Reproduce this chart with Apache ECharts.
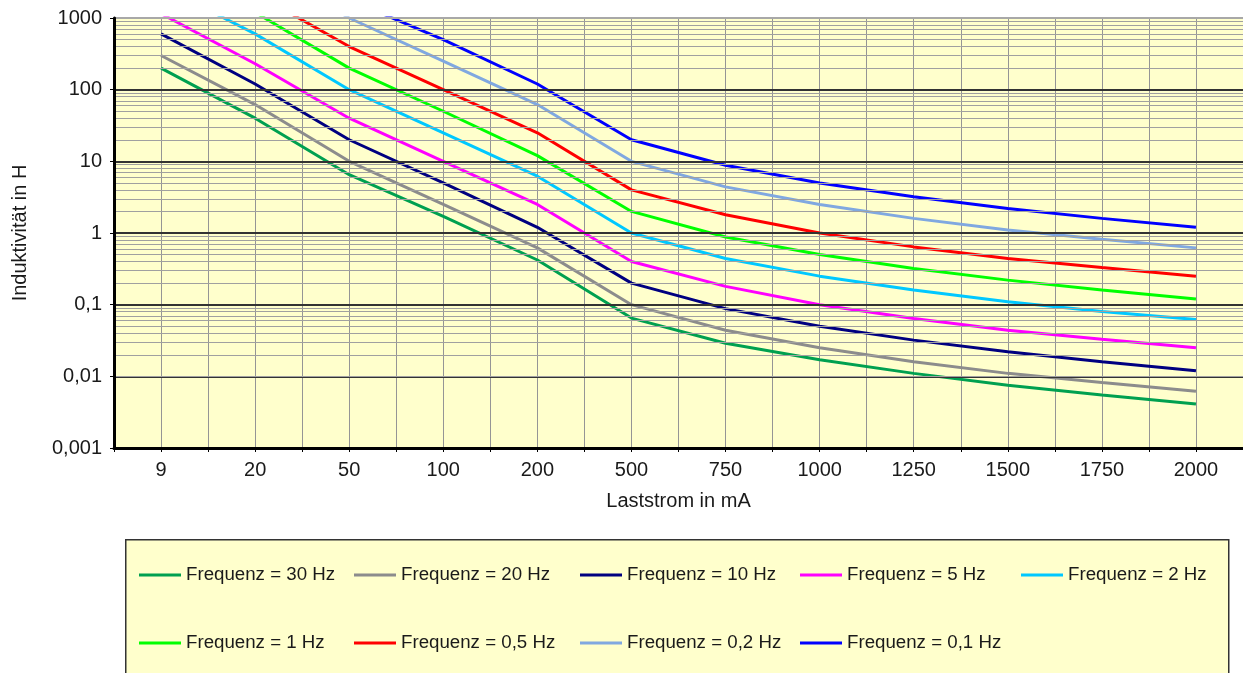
<!DOCTYPE html>
<html>
<head>
<meta charset="utf-8">
<script src="https://cdn.jsdelivr.net/npm/echarts@6/dist/echarts.min.js"></script>
<style>
html,body{margin:0;padding:0;background:#fff;}
#chart{width:1243px;height:673px;}
</style>
</head>
<body>
<div id="chart"></div>
<script>
// ---- data ----
const categories = ['9','20','50','100','200','500','750','1000','1250','1500','1750','2000'];
const yTickLabels = ['0,001','0,01','0,1','1','10','100','1000'];
const seriesNames = ['Frequenz = 30 Hz','Frequenz = 20 Hz','Frequenz = 10 Hz','Frequenz = 5 Hz','Frequenz = 2 Hz',
                     'Frequenz = 1 Hz','Frequenz = 0,5 Hz','Frequenz = 0,2 Hz','Frequenz = 0,1 Hz'];
const f30  = [200, 40, 6.5, 1.7, 0.42, 0.065, 0.029, 0.017, 0.011, 0.0075, 0.0055, 0.0041];
const f20  = [300, 62, 10, 2.5, 0.62, 0.1, 0.044, 0.025, 0.016, 0.011, 0.0082, 0.0062];
const f10  = [600, 120, 20, 5, 1.2, 0.2, 0.088, 0.05, 0.032, 0.022, 0.016, 0.012];
const f5   = [1150, 230, 40, 10, 2.5, 0.4, 0.18, 0.1, 0.064, 0.044, 0.033, 0.025];
const f2   = [2800, 600, 100, 25, 6.2, 1.0, 0.44, 0.25, 0.16, 0.11, 0.08, 0.062];
const f1   = [6000, 1200, 200, 50, 12, 2.0, 0.88, 0.5, 0.32, 0.22, 0.16, 0.12];
const f05  = [10500, 2200, 400, 100, 25, 4, 1.8, 1.0, 0.64, 0.44, 0.33, 0.25];
const f02  = [30000, 6000, 1000, 250, 62, 10, 4.4, 2.5, 1.6, 1.1, 0.82, 0.62];
const f01  = [60000, 12000, 1800, 500, 120, 20, 8.8, 5, 3.2, 2.2, 1.6, 1.2];
const seriesData = [f30, f20, f10, f5, f2, f1, f05, f02, f01];

// ---- style ----
const colors = ['#00a050','#8c8c8c','#000080','#ff00ff','#00c8ff','#00ff00','#ff0000','#80a8e0','#0000ff'];
const FONT = "'Liberation Sans', Arial, sans-serif";
const legendCols = [139, 354, 580, 800, 1021];
const legendRows = [573, 641];

// minor grid positions (2..9 x 10^k)
const minorLines = [];
for (let k = -3; k < 3; k++) for (let m = 2; m <= 9; m++) minorLines.push({yAxis: +(m * Math.pow(10, k)).toPrecision(3)});

const chart = echarts.init(document.getElementById('chart'), null, {renderer: 'canvas'});

const legends = seriesNames.map((name, i) => {
  const row = i < 5 ? 0 : 1;
  const col = i < 5 ? i : i - 5;
  return {
    data: [{name: name, icon: 'rect'}],
    left: legendCols[col],
    top: legendRows[row] - 10,
    padding: 0,
    itemWidth: 42,
    itemHeight: 3,
    selectedMode: false,
    textStyle: {fontFamily: FONT, fontSize: 18.7, color: '#1a1a1a', lineHeight: 20, padding: [4,0,0,0]}
  };
});

const series = seriesData.map((d, i) => ({
  name: seriesNames[i],
  type: 'line',
  xAxisIndex: 0,
  yAxisIndex: 0,
  data: d,
  symbol: 'none',
  clip: true,
  z: 3,
  lineStyle: {color: colors[i], width: 3},
  itemStyle: {color: colors[i]},
  animation: false
}));

series.push({
  name: 'minorGrid',
  type: 'line',
  data: [],
  xAxisIndex: 0,
  yAxisIndex: 0,
  z: 1,
  silent: true,
  animation: false,
  markLine: {
    silent: true,
    symbol: ['none','none'],
    animation: false,
    label: {show: false},
    lineStyle: {color: '#a0a0a0', width: 1, type: 'solid'},
    emphasis: {disabled: true},
    data: minorLines.concat([{yAxis: 1000, lineStyle: {color: '#a8a8a8', width: 2}}])
  }
});

chart.setOption({
  backgroundColor: '#ffffff',
  animation: false,
  grid: {left: 114, top: 18, right: 0, bottom: 225, show: true, backgroundColor: '#ffffcc', borderWidth: 0},
  legend: legends,
  graphic: [{
    type: 'rect', left: 125, top: 539, z: 0,
    shape: {width: 1103, height: 160},
    style: {fill: '#ffffcc', stroke: '#333', lineWidth: 1.5}
  }],
  xAxis: [{
    type: 'category',
    data: categories,
    boundaryGap: true,
    position: 'bottom',
    axisLine: {show: true, onZero: false, lineStyle: {color: '#000', width: 3}},
    axisTick: {show: false},
    splitLine: {show: false},
    axisLabel: {fontFamily: FONT, fontSize: 20, color: '#1a1a1a', margin: 12, interval: 0},
    name: 'Laststrom in mA',
    nameLocation: 'middle',
    nameGap: 43,
    nameTextStyle: {fontFamily: FONT, fontSize: 20, color: '#1a1a1a'},
    z: 5
  }, {
    type: 'value',
    min: -0.5,
    max: 11.5,
    interval: 0.5,
    position: 'bottom',
    axisLine: {show: false},
    axisTick: {show: true, length: 4, lineStyle: {color: '#000', width: 1}},
    axisLabel: {show: false},
    splitLine: {show: true, lineStyle: {color: '#959595', width: 1}}
  }],
  yAxis: [{
    type: 'log',
    logBase: 10,
    min: 0.001,
    max: 1000,
    splitNumber: 6,
    axisLine: {show: true, onZero: false, lineStyle: {color: '#000', width: 3}},
    axisTick: {show: true, length: 4, lineStyle: {color: '#000', width: 1}},
    axisLabel: {
      fontFamily: FONT, fontSize: 20, color: '#1a1a1a', margin: 12,
      formatter: function (v) { const e = Math.round(Math.log10(v)); return yTickLabels[e + 3]; }
    },
    splitLine: {show: true, showMaxLine: false, lineStyle: {color: '#333', width: 2}},
    minorTick: {show: false},
    minorSplitLine: {show: false},
    name: 'Induktivität in H',
    nameLocation: 'middle',
    nameGap: 84,
    nameRotate: 90,
    nameTextStyle: {fontFamily: FONT, fontSize: 20, color: '#1a1a1a'},
    z: 5
  }],
  series: series
});
</script>
</body>
</html>
